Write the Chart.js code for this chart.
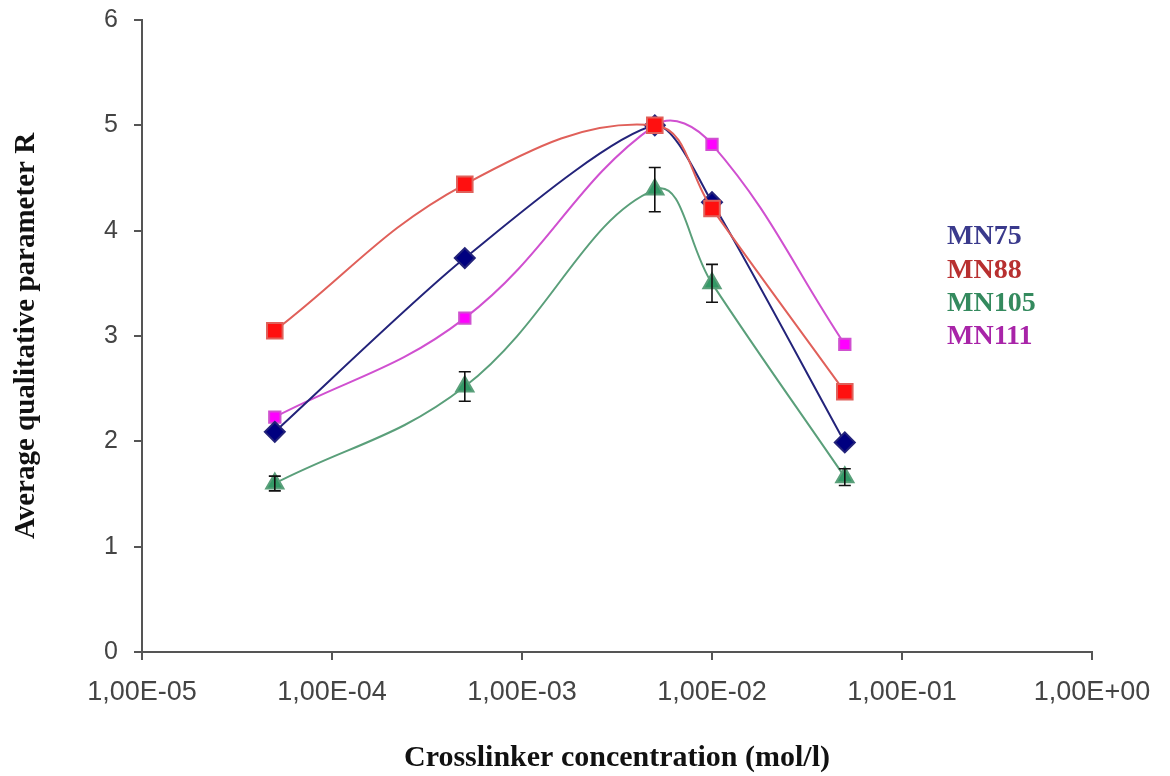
<!DOCTYPE html>
<html>
<head>
<meta charset="utf-8">
<script src="https://cdn.jsdelivr.net/npm/chart.js@4"></script>
<style>
  html, body { margin: 0; padding: 0; background: #fff; }
  #wrap { width: 1170px; height: 776px; }
</style>
</head>
<body>
<div id="wrap"><canvas id="chart" width="1170" height="776"></canvas></div>
<script>
/* ── data ── */
const concentrations = [5e-5, 5e-4, 5e-3, 1e-2, 5e-2];
const xTicks = [1e-5, 1e-4, 1e-3, 1e-2, 1e-1, 1e0];

const seriesLabels = ['MN75', 'MN88', 'MN105', 'MN111'];
const mn75  = [2.09, 3.74, 5.00, 4.27, 1.99];
const mn88  = [3.05, 4.44, 5.00, 4.21, 2.47];
const mn105 = [1.60, 2.52, 4.39, 3.50, 1.66];
const mn111 = [2.23, 3.17, 5.00, 4.82, 2.92];
const mn105Err = [0.07, 0.14, 0.21, 0.18, 0.08];

const toPoints = vals => concentrations.map((x, i) => ({ x, y: vals[i] }));

/* excel style "1,00E-05" */
function fmtSci(v) {
    const exp = Math.round(Math.log10(v));
    const sign = exp < 0 ? '-' : '+';
    return '1,00E' + sign + String(Math.abs(exp)).padStart(2, '0');
}

/* ── plugins ── */
const errorBars = {
    id: 'errorBars',
    afterDatasetsDraw(chart) {
        const { ctx, scales: { x, y } } = chart;
        ctx.save();
        ctx.strokeStyle = '#111';
        ctx.lineWidth = 1.6;
        concentrations.forEach((c, i) => {
            const px = x.getPixelForValue(c);
            const top = y.getPixelForValue(mn105[i] + mn105Err[i]);
            const bot = y.getPixelForValue(mn105[i] - mn105Err[i]);
            ctx.beginPath();
            ctx.moveTo(px, top); ctx.lineTo(px, bot);
            ctx.moveTo(px - 6, top); ctx.lineTo(px + 6, top);
            ctx.moveTo(px - 6, bot); ctx.lineTo(px + 6, bot);
            ctx.stroke();
        });
        ctx.restore();
    },
};

// the legend is plain coloured text, no swatches
const textLegend = {
    id: 'textLegend',
    afterDraw(chart) {
        const { ctx } = chart;
        const colors = ['#3a3a8c', '#b83030', '#348a5e', '#a824a8'];
        ctx.save();
        ctx.font = 'bold 28px "Liberation Serif", "Times New Roman", serif';
        ctx.textBaseline = 'middle';
        ctx.textAlign = 'left';
        seriesLabels.forEach((lab, i) => {
            ctx.fillStyle = colors[i];
            ctx.fillText(lab, 947, 237 + i * 33.3);
        });
        ctx.restore();
    },
};

const serif = '"Liberation Serif", "Times New Roman", serif';
const sans  = '"Liberation Sans", Arial, sans-serif';

new Chart(document.getElementById('chart').getContext('2d'), {
    type: 'line',
    data: {
        datasets: [
            {
                label: seriesLabels[0],
                data: toPoints(mn75),
                borderColor: '#23237a',
                backgroundColor: '#000080',
                borderWidth: 2,
                pointStyle: 'rectRot',
                pointRadius: 10,
                tension: 0.25,
                order: 1,
            },
            {
                label: seriesLabels[1],
                data: toPoints(mn88),
                borderColor: '#e0605a',
                backgroundColor: '#ff1010',
                borderWidth: 2,
                pointStyle: 'rect',
                pointRadius: 11,
                tension: 0.4,
                order: 0,
            },
            {
                label: seriesLabels[2],
                data: toPoints(mn105),
                borderColor: '#5a9f7a',
                backgroundColor: '#339966',
                borderWidth: 2,
                pointStyle: 'triangle',
                pointRadius: 10,
                tension: 0.4,
                order: 3,
            },
            {
                label: seriesLabels[3],
                data: toPoints(mn111),
                borderColor: '#d050d0',
                backgroundColor: '#ff00ff',
                borderWidth: 2,
                pointStyle: 'rect',
                pointRadius: 8,
                tension: 0.4,
                order: 2,
            },
        ],
    },
    options: {
        responsive: false,
        animation: false,
        layout: { padding: { left: 0, top: 20, right: 78, bottom: 0 } },
        scales: {
            x: {
                type: 'logarithmic',
                min: 1e-5,
                max: 1,
                afterBuildTicks: scale => { scale.ticks = xTicks.map(v => ({ value: v })); },
                afterFit: scale => { scale.height = 124; },
                grid: { drawOnChartArea: false, drawTicks: true, tickLength: 8, color: '#555', lineWidth: 2 },
                border: { color: '#555', width: 2 },
                ticks: { color: '#444', font: { family: sans, size: 27 }, padding: 16, maxRotation: 0, callback: v => fmtSci(v) },
                title: { display: true, text: 'Crosslinker concentration (mol/l)', color: '#111', font: { family: serif, size: 30, weight: 'bold' }, padding: { top: 20, bottom: 0 } },
            },
            y: {
                min: 0,
                max: 6,
                afterFit: scale => { scale.width = 142; scale.paddingTop = 0; scale.paddingBottom = 0; },
                grid: { drawOnChartArea: false, drawTicks: true, tickLength: 8, color: '#555', lineWidth: 2 },
                border: { color: '#555', width: 2 },
                ticks: { stepSize: 1, color: '#444', font: { family: sans, size: 25 }, padding: 16 },
                title: { display: true, text: 'Average qualitative parameter R', color: '#111', font: { family: serif, size: 29, weight: 'bold' }, padding: { top: 9, bottom: 0 } },
            },
        },
        plugins: {
            legend: { display: false },
            tooltip: { enabled: false },
        },
    },
    plugins: [errorBars, textLegend],
});
</script>
</body>
</html>
